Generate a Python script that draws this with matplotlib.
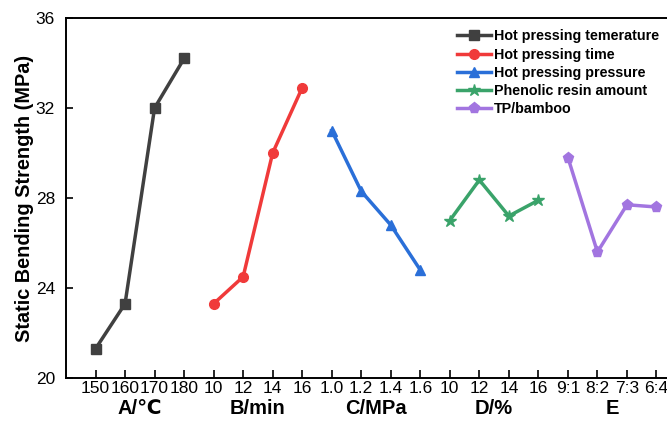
import matplotlib.pyplot as plt
import numpy as np

plt.rcParams['font.family'] = ['Liberation Sans', 'DejaVu Sans']

# factor levels (tick labels) and mean strength for each factor
temp_levels = ['150', '160', '170', '180']
temp_vals = [21.3, 23.3, 32.0, 34.2]
time_levels = ['10', '12', '14', '16']
time_vals = [23.3, 24.5, 30.0, 32.9]
pres_levels = ['1.0', '1.2', '1.4', '1.6']
pres_vals = [31.0, 28.3, 26.8, 24.8]
resin_levels = ['10', '12', '14', '16']
resin_vals = [27.0, 28.8, 27.2, 27.9]
ratio_levels = ['9:1', '8:2', '7:3', '6:4']
ratio_vals = [29.8, 25.6, 27.7, 27.6]

group_names = ['A/\u2103', 'B/min', 'C/MPa', 'D/%', 'E']
series_names = ['Hot pressing temerature', 'Hot pressing time', 'Hot pressing pressure',
                'Phenolic resin amount', 'TP/bamboo']

fig = plt.figure(figsize=(6.67, 4.28), dpi=100)
ax = fig.add_axes([66/667, 50/428, 620/667, 360/428])

groups = [temp_vals, time_vals, pres_vals, resin_vals, ratio_vals]
colors = ['#404040', '#f03a3a', '#2a6fd8', '#3aa36a', '#a275e0']
markers = ['s', 'o', '^', '*', 'p']
msizes = [7, 7, 7, 9, 8]

for i, vals in enumerate(groups):
    x = np.arange(len(vals)) + 4*i
    ax.plot(x, vals, color=colors[i], marker=markers[i], markersize=msizes[i],
            linewidth=2.5, label=series_names[i])
ticklabels = temp_levels + time_levels + pres_levels + resin_levels + ratio_levels

ax.set_xticks(np.arange(len(ticklabels)))
ax.set_xticklabels(ticklabels, fontsize=12.5)
ax.set_xlim(-1, 20)
ax.set_ylim(20, 36)
ax.set_yticks([20, 24, 28, 32, 36])
ax.tick_params(axis='y', labelsize=12.5, direction='in', length=5, width=1.2, pad=8)
ax.tick_params(axis='x', direction='in', length=6, width=1.2, pad=2.5)
for s in ax.spines.values():
    s.set_linewidth(1.4)

for i, name in enumerate(group_names):
    ax.text(4*i + 1.5, -0.086, name, transform=ax.get_xaxis_transform(),
            ha='center', va='center', fontsize=14.5, fontweight='bold',
            family=['Liberation Sans', 'DejaVu Sans'])

ax.set_ylabel('Static Bending Strength (MPa)', fontsize=14.3, fontweight='bold', labelpad=1)

ax.legend(loc='upper left', bbox_to_anchor=(447/667, 0.955), bbox_transform=fig.transFigure,
          frameon=False, prop={'weight': 'bold', 'size': 10.3}, handlelength=2.4,
          handletextpad=0.2, labelspacing=0.3, borderpad=0.2)

plt.savefig('out.png', dpi=100)
